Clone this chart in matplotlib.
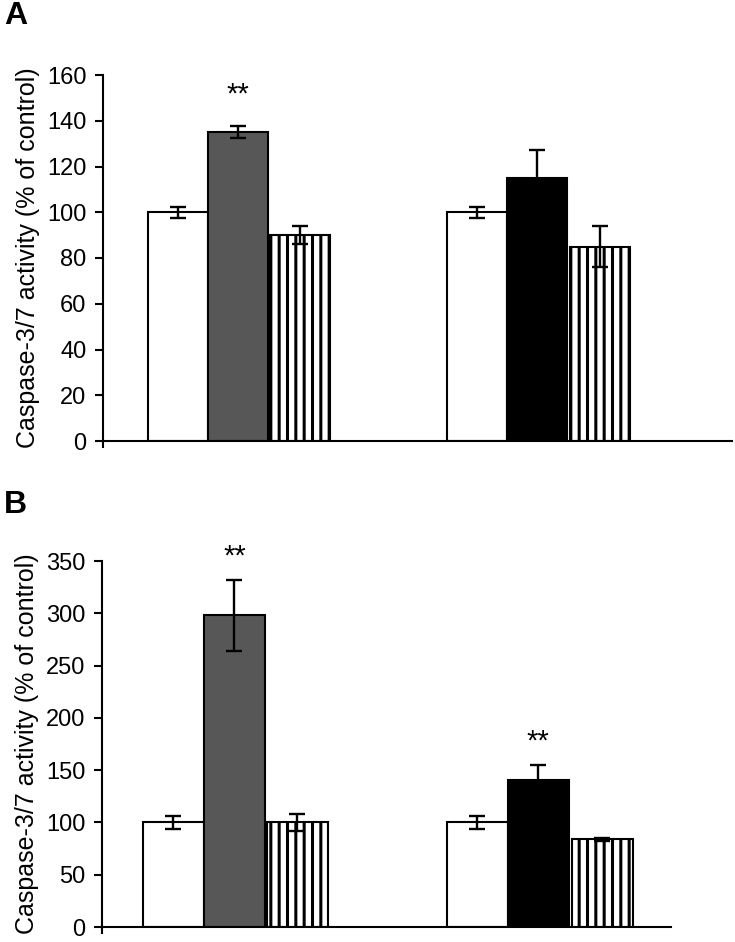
import matplotlib
matplotlib.use("Agg")
import matplotlib.pyplot as plt

plt.rcParams['font.family'] = ['Liberation Sans', 'DejaVu Sans']
plt.rcParams['hatch.linewidth'] = 2.2

# ---- data ----
groups = ["group1", "group2"]
treatments = ["control", "treated", "co-treated"]

a_values = [100, 135, 90, 100, 115, 85]
a_errors = [2.5, 2.5, 4, 2.5, 12, 9]
a_stars = ["", "**", "", "", "", ""]

b_values = [100, 298, 100, 100, 141, 84]
b_errors = [6, 34, 8, 6, 14, 1.5]
b_stars = ["", "**", "", "", "**", ""]

ylabel = "Caspase-3/7 activity (% of control)"
a_yticks = [0, 20, 40, 60, 80, 100, 120, 140, 160]
b_yticks = [0, 50, 100, 150, 200, 250, 300, 350]

# ---- styles ----
facecolors = ['white', '#575757', 'white', 'white', 'black', 'white']
hatches = [None, None, '||', None, None, '||']
positions = [1.25, 2.25, 3.28, 6.23, 7.23, 8.28]

fig = plt.figure(figsize=(7.35, 9.42), dpi=100)
W, H = 735, 942


def make_ax(l, r, t, b):
    return fig.add_axes([l / W, 1 - b / H, (r - l) / W, (b - t) / H])


def draw(ax, values, errors, stars, yticks, xlim, star_offset):
    for i, (p, v, e) in enumerate(zip(positions, values, errors)):
        ax.bar(p, v, width=1.0, color=facecolors[i], edgecolor='black',
               linewidth=1.5, hatch=hatches[i], zorder=2)
        ax.errorbar(p, v, yerr=e, fmt='none', ecolor='black', elinewidth=1.7,
                    capsize=6, capthick=1.7, zorder=3)
        if stars[i]:
            ax.text(p, v + e + star_offset, stars[i], ha='center', va='center',
                    fontsize=21, clip_on=False)
    ax.set_xlim(*xlim)
    ax.set_ylim(yticks[0], yticks[-1])
    ax.set_yticks(yticks)
    ax.set_xticks([xlim[0]])
    ax.set_xticklabels([])
    ax.tick_params(axis='y', direction='out', length=6, width=1.5, labelsize=17, pad=6)
    ax.tick_params(axis='x', direction='out', length=5, width=1.5)
    for s in ['top', 'right']:
        ax.spines[s].set_visible(False)
    for s in ['left', 'bottom']:
        ax.spines[s].set_linewidth(1.5)
    ax.set_ylabel(ylabel, fontsize=18, labelpad=5)


axA = make_ax(103, 732, 75, 441)
draw(axA, a_values, a_errors, a_stars, a_yticks, (0, 629 / 60), 14)
axB = make_ax(102, 671, 561, 927)
draw(axB, b_values, b_errors, b_stars, b_yticks, (0.078, 0.078 + 569 / 61), 22)

fig.text(4 / W, 1 - 16 / H, "A", fontsize=23, fontweight='bold', va='center', ha='left')
fig.text(4 / W, 1 - 505 / H, "B", fontsize=23, fontweight='bold', va='center', ha='left')

fig.savefig("out.png", dpi=100)
